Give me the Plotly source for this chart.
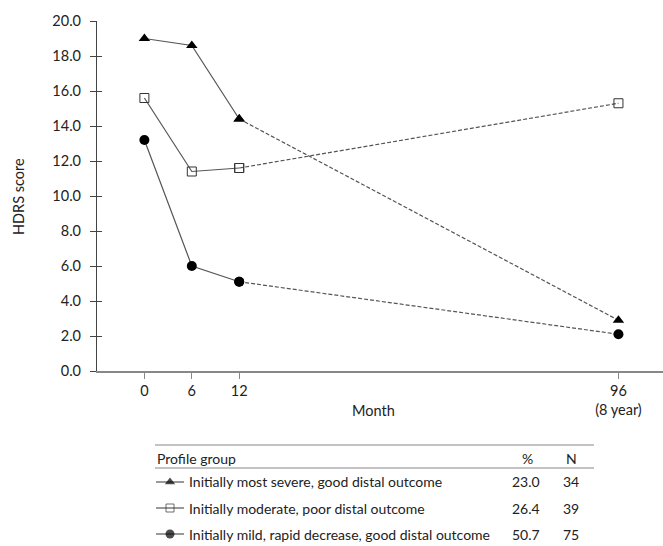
import plotly.graph_objects as go

# ---- data ----
month_labels = ["0", "6", "12", "96<br>(8 year)"]
month_pos = [0, 1, 2, 10]          # axis positions of the month categories (uneven spacing)
groups = ["Initially most severe, good distal outcome",
          "Initially moderate, poor distal outcome",
          "Initially mild, rapid decrease, good distal outcome"]
severe = [19.0, 18.6, 14.4, 2.9]
moderate = [15.6, 11.4, 11.6, 15.3]
mild = [13.2, 6.0, 5.1, 2.1]
pct = ["23.0", "26.4", "50.7"]
n_vals = ["34", "39", "75"]

W, H = 663, 546
ML, MT = 97, 21
PW = W - ML
PH = H - MT


def px(x):
    return (x - ML) / PW


def py(y):
    return (H - y) / PH


FONT = "Lato"
FS = 14.5
FS_T = 14
TXT = "#222222"
LINEC = "#555555"

series = [severe, moderate, mild]
markers = [
    dict(symbol="triangle-up", size=10, color="black", line=dict(width=0)),
    dict(symbol="square-open", size=9, color="#333333", line=dict(width=1)),
    dict(symbol="circle", size=10, color="black", line=dict(width=0)),
]

fig = go.Figure()
for i, (vals, mk, name) in enumerate(zip(series, markers, groups)):
    fig.add_trace(go.Scatter(
        x=month_pos[:3], y=vals[:3], mode="lines+markers", name=name,
        line=dict(color=LINEC, width=1.2), marker=mk, showlegend=False))
    fig.add_trace(go.Scatter(
        x=month_pos[2:], y=vals[2:], mode="lines+markers", name=name,
        line=dict(color=LINEC, width=1.2, dash="4px,2px"), marker=mk,
        showlegend=False))

# dummy trace for inside-tick overlay axis
fig.add_trace(go.Scatter(x=[None], y=[None], xaxis="x", yaxis="y3",
                         showlegend=False, hoverinfo="skip"))

# ---- key table (pixel-based helper axes x2/y2 below the plot) ----
row_y = [482, 508, 534]
KEY_X0, KEY_XC, KEY_X1 = 156, 170, 184
for mk, ry in zip(markers, row_y):
    kmk = dict(mk)
    kmk["size"] = [0, mk["size"] - 1, 0]
    fig.add_trace(go.Scatter(
        x=[KEY_X0, KEY_XC, KEY_X1], y=[ry, ry, ry], mode="lines+markers",
        line=dict(color=LINEC, width=1.2), marker=kmk,
        xaxis="x2", yaxis="y2", showlegend=False, hoverinfo="skip"))

ydom0 = (H - 371) / PH


def ann(text, x, y, xanchor="center", size=FS, **kw):
    d = dict(text=text, x=px(x), y=py(y), xref="paper", yref="paper",
             xanchor=xanchor, yanchor="middle", showarrow=False,
             font=dict(size=size, color=TXT))
    d.update(kw)
    return d


annotations = [
    ann("HDRS score", 18, 197, textangle=-90),
    ann("Month", 373, 410),
    ann("Profile group", 155, 458, xanchor="left", size=FS_T),
    ann("%", 527, 458, size=FS_T),
    ann("N", 571, 458, size=FS_T),
]
for g, p, nn, ry in zip(groups, pct, n_vals, row_y):
    annotations.append(ann(g, 187, ry, xanchor="left", size=FS_T))
    annotations.append(ann(p, 526, ry, size=FS_T))
    annotations.append(ann(nn, 571, ry, size=FS_T))

shapes = [
    dict(type="line", xref="paper", yref="paper", x0=px(155), x1=px(594),
         y0=py(445), y1=py(445), line=dict(color="#888", width=1.2)),
    dict(type="line", xref="paper", yref="paper", x0=px(155), x1=px(594),
         y0=py(468), y1=py(468), line=dict(color="#888", width=1.2)),
]

hidden = dict(visible=False, showgrid=False, zeroline=False, fixedrange=True)

fig.update_layout(
    width=W, height=H,
    margin=dict(l=ML, r=0, t=MT, b=0),
    paper_bgcolor="white", plot_bgcolor="rgba(0,0,0,0)",
    font=dict(family=FONT, size=FS, color=TXT),
    xaxis=dict(domain=[0, 1], range=[-1, 10.94], tickvals=month_pos, ticktext=month_labels,
               ticks="outside", ticklen=6, tickcolor="#888", tickwidth=1,
               showline=True, linecolor="#888", linewidth=1.5,
               showgrid=False, zeroline=False, anchor="y", automargin=False,
               tickfont=dict(size=FS, color=TXT)),
    yaxis=dict(domain=[ydom0, 1], range=[0, 20], dtick=2, tick0=0, tickformat=".1f",
               ticks="outside", ticklen=6, tickcolor="#444", tickwidth=1,
               showline=True, linecolor="#444", linewidth=1.2,
               showgrid=False, zeroline=False, anchor="x", automargin=False,
               ticklabelstandoff=6, tickfont=dict(size=FS, color=TXT)),
    yaxis3=dict(overlaying="y", anchor="x", side="left", range=[0, 20], dtick=2, tick0=0,
                ticks="inside", ticklen=5, tickcolor="#444", tickwidth=1,
                showticklabels=False, showline=False, showgrid=False, zeroline=False),
    xaxis2=dict(domain=[0, 1], range=[ML, W], anchor="y2", **hidden),
    yaxis2=dict(domain=[0, ydom0], range=[H, 371], anchor="x2", **hidden),
    showlegend=False,
    annotations=annotations,
    shapes=shapes,
)

fig.write_html("out.html", config={"displayModeBar": False},
               post_script="document.body.style.margin='0px';")
